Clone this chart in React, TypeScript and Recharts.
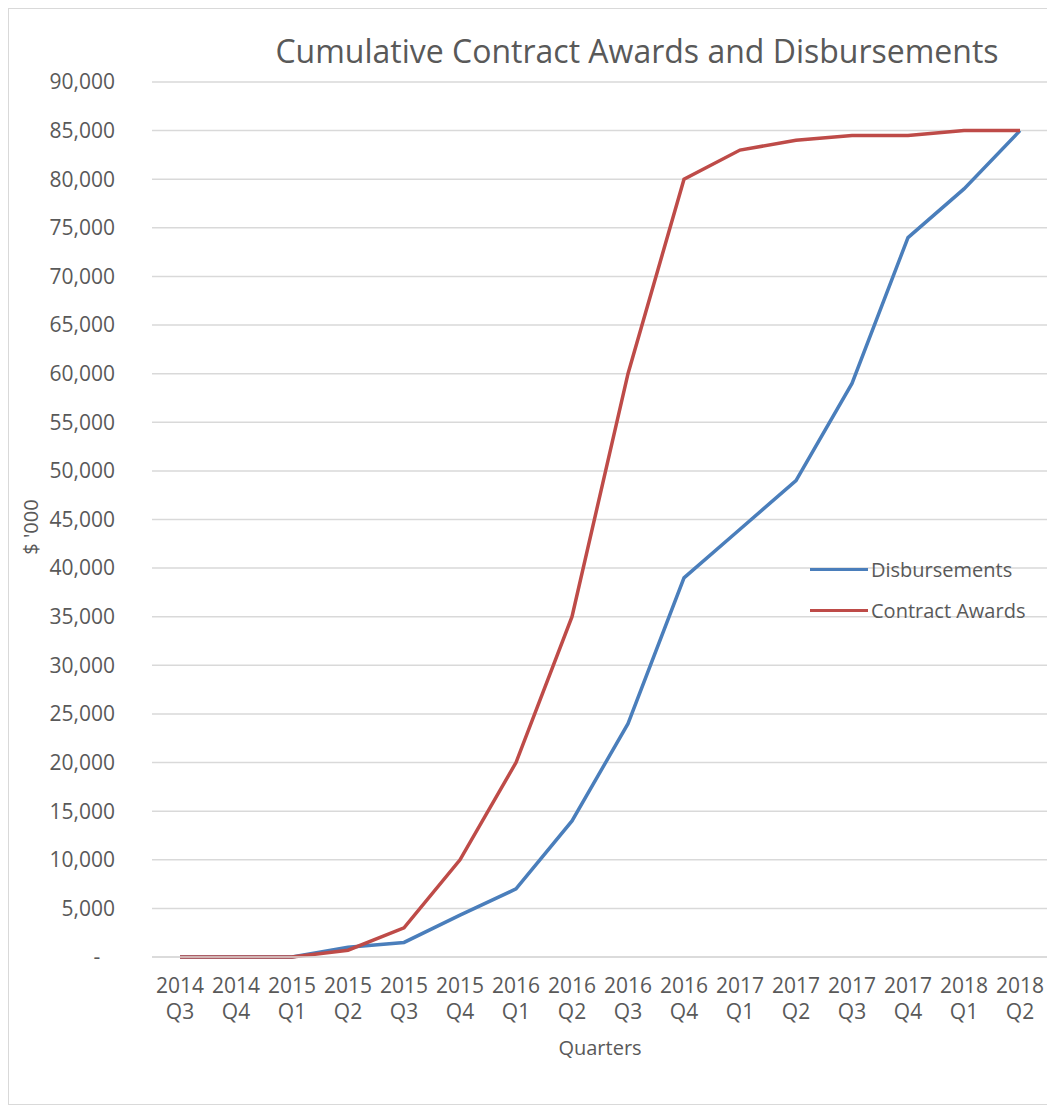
import React from "react";
import { LineChart, Line, XAxis, YAxis, CartesianGrid } from "recharts";

const quarters = [
  "2014 Q3", "2014 Q4", "2015 Q1", "2015 Q2", "2015 Q3", "2015 Q4",
  "2016 Q1", "2016 Q2", "2016 Q3", "2016 Q4", "2017 Q1", "2017 Q2",
  "2017 Q3", "2017 Q4", "2018 Q1", "2018 Q2",
];
const disbursements = [
  0, 0, 0, 1000, 1500, 4300, 7000, 14000, 24000, 39000, 44000, 49000,
  59000, 74000, 79000, 85000,
];
const contractAwards = [
  0, 0, 0, 700, 3000, 10000, 20000, 35000, 60000, 80000, 83000, 84000,
  84500, 84500, 85000, 85000,
];
const yTicks = [
  0, 5000, 10000, 15000, 20000, 25000, 30000, 35000, 40000, 45000, 50000,
  55000, 60000, 65000, 70000, 75000, 80000, 85000, 90000,
];

const data = quarters.map((q, i) => ({
  quarter: q,
  Disbursements: disbursements[i],
  "Contract Awards": contractAwards[i],
}));

const FONT = "'Open Sans', sans-serif";
const TXT = "#595959";
const BLUE = "#4A7EBB";
const RED = "#BE4B48";

const XTick = (props: any) => {
  const { x, y, payload } = props;
  const [yr, q] = String(payload.value).split(" ");
  return (
    <g>
      <text x={x} y={y + 36} textAnchor="middle" fill={TXT} fontSize={21} fontFamily={FONT}>
        {yr}
      </text>
      <text x={x} y={y + 62} textAnchor="middle" fill={TXT} fontSize={21} fontFamily={FONT}>
        {q}
      </text>
    </g>
  );
};

const YTick = (props: any) => {
  const { y, payload } = props;
  const v = payload.value as number;
  if (v === 0) {
    return (
      <text x={88} y={y} dy="0.35em" textAnchor="middle" fill={TXT} fontSize={21} fontFamily={FONT}>
        -
      </text>
    );
  }
  return (
    <text x={106} y={y} dy="0.35em" textAnchor="end" fill={TXT} fontSize={21} fontFamily={FONT}>
      {v.toLocaleString("en-US")}
    </text>
  );
};

export default function App() {
  return (
    <div
      style={{
        position: "relative",
        width: 1043,
        height: 1097,
        border: "1px solid #d9d9d9",
        boxSizing: "border-box",
        background: "#fff",
        fontFamily: FONT,
      }}
    >
      <LineChart
        width={1041}
        height={1095}
        data={data}
        margin={{ top: 73, right: 2, bottom: 87, left: 0 }}
      >
        <CartesianGrid horizontal={true} vertical={false} stroke="#d9d9d9" strokeWidth={1.5} />
        <XAxis
          dataKey="quarter"
          interval={0}
          height={60}
          padding={{ left: 28, right: 28 }}
          tickLine={false}
          tickSize={0}
          tickMargin={0}
          axisLine={{ stroke: "#d9d9d9", strokeWidth: 1.5 }}
          tick={<XTick />}
        />
        <YAxis
          width={143}
          domain={[0, 90000]}
          ticks={yTicks}
          interval={0}
          axisLine={false}
          tickLine={false}
          tickSize={0}
          tick={<YTick />}
        />
        <Line
          type="linear"
          dataKey="Disbursements"
          stroke={BLUE}
          strokeWidth={3.5}
          dot={false}
          isAnimationActive={false}
        />
        <Line
          type="linear"
          dataKey="Contract Awards"
          stroke={RED}
          strokeWidth={3.5}
          dot={false}
          isAnimationActive={false}
        />
      </LineChart>

      <div
        style={{
          position: "absolute",
          left: 628,
          top: 20,
          transform: "translateX(-50%)",
          fontSize: 32,
          color: TXT,
          whiteSpace: "nowrap",
        }}
      >
        Cumulative Contract Awards and Disbursements
      </div>

      <div
        style={{
          position: "absolute",
          left: 21,
          top: 518,
          fontSize: 20,
          color: TXT,
          whiteSpace: "nowrap",
          transform: "translate(-50%, -50%) rotate(-90deg)",
        }}
      >
        $ '000
      </div>

      <div
        style={{
          position: "absolute",
          left: 591,
          top: 1025,
          transform: "translateX(-50%)",
          fontSize: 20,
          color: TXT,
          whiteSpace: "nowrap",
        }}
      >
        Quarters
      </div>

      <div
        style={{
          position: "absolute",
          left: 801,
          top: 540,
          fontSize: 20,
          color: TXT,
          lineHeight: "41px",
        }}
      >
        {[
          { name: "Disbursements", color: BLUE },
          { name: "Contract Awards", color: RED },
        ].map((it) => (
          <div key={it.name} style={{ display: "flex", alignItems: "center", whiteSpace: "nowrap" }}>
            <span
              style={{
                display: "inline-block",
                width: 58,
                height: 3.5,
                background: it.color,
                marginRight: 3,
              }}
            />
            {it.name}
          </div>
        ))}
      </div>
    </div>
  );
}
